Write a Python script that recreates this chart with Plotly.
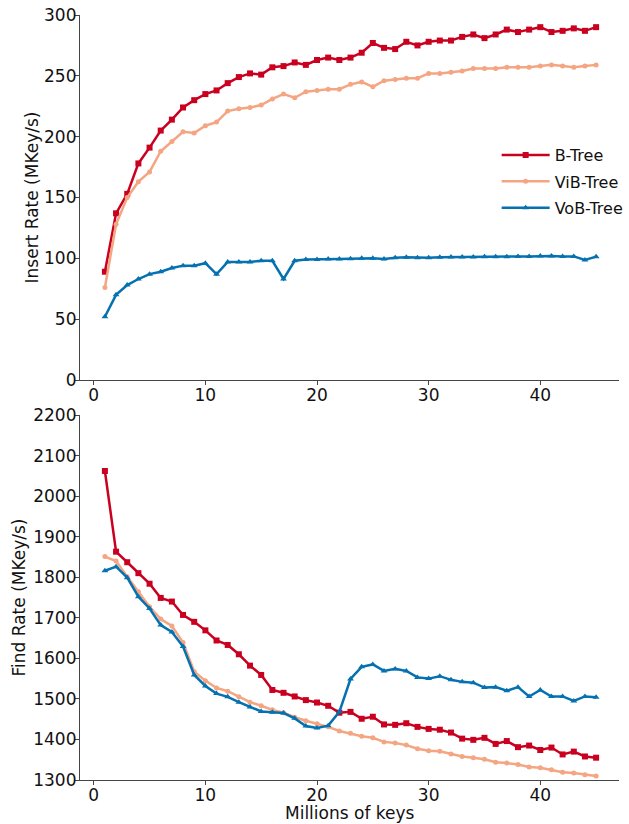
import plotly.graph_objects as go

keys = [1, 2, 3, 4, 5, 6, 7, 8, 9, 10, 11, 12, 13, 14, 15, 16, 17, 18, 19, 20,
        21, 22, 23, 24, 25, 26, 27, 28, 29, 30, 31, 32, 33, 34, 35, 36, 37, 38, 39, 40,
        41, 42, 43, 44, 45]

insert_btree = [89, 137, 153, 178, 191, 205, 214, 224, 230, 235, 238, 244, 249, 252, 251,
                257, 258, 261, 259, 263, 265, 263, 265, 269, 277, 273, 272, 278, 275, 278,
                279, 279, 282, 284, 281, 284, 288, 286, 288, 290, 286, 287, 289, 287, 290]
insert_vib = [76, 128, 150, 163, 171, 188, 196, 204, 203, 209, 212, 221, 223, 224, 226,
              231, 235, 232, 237, 238, 239, 239, 243, 245, 241, 246, 247, 248, 248, 252,
              252, 253, 254, 256, 256, 256, 257, 257, 257, 258, 259, 258, 257, 258, 259]
insert_vob = [52, 70, 78, 83, 87, 89, 92, 94, 94, 96, 87, 97, 97, 97, 98,
              98, 83, 98, 99, 99, 99.5, 99.5, 99.7, 100, 100, 99.5, 100.5, 100.8, 100.5, 100.5,
              100.8, 101, 101, 101, 101.4, 101.4, 101.4, 101.6, 101.6, 102, 102, 101.6, 101.6, 98.6, 101.4]

find_btree = [2062, 1863, 1837, 1810, 1784, 1749, 1740, 1707, 1690, 1669, 1644, 1633, 1610, 1582, 1559,
              1522, 1515, 1506, 1497, 1491, 1483, 1466, 1468, 1451, 1456, 1437, 1436, 1440, 1431, 1426,
              1424, 1417, 1402, 1399, 1404, 1389, 1396, 1381, 1385, 1374, 1380, 1363, 1370, 1358, 1355]
find_vib = [1851, 1840, 1801, 1764, 1727, 1697, 1680, 1639, 1567, 1545, 1527, 1519, 1505, 1492, 1483,
            1473, 1466, 1455, 1446, 1439, 1431, 1421, 1415, 1408, 1404, 1394, 1391, 1386, 1377, 1372,
            1371, 1364, 1358, 1355, 1351, 1344, 1342, 1338, 1332, 1330, 1325, 1319, 1317, 1313, 1310]
find_vob = [1816, 1826, 1799, 1752, 1723, 1682, 1665, 1629, 1559, 1532, 1513, 1505, 1492, 1480, 1469,
            1467, 1465, 1452, 1433, 1428, 1434, 1468, 1549, 1579, 1585, 1569, 1574, 1569, 1553, 1550,
            1556, 1547, 1542, 1540, 1528, 1529, 1520, 1529, 1506, 1522, 1506, 1506, 1495, 1506, 1504]

x_ticks = [0, 10, 20, 30, 40]
insert_ticks = [0, 50, 100, 150, 200, 250, 300]
find_ticks = [1300, 1400, 1500, 1600, 1700, 1800, 1900, 2000, 2100, 2200]

names = ["B-Tree", "ViB-Tree", "VoB-Tree"]
colors = ["#ca0020", "#f4a582", "#0571b0"]
symbols = ["square", "circle", "triangle-up"]
msizes = [6, 5, 6]

FONT = "DejaVu Sans"
fig = go.Figure()

for i, ys in enumerate([insert_btree, insert_vib, insert_vob]):
    fig.add_trace(go.Scatter(x=keys, y=ys, name=names[i], mode="lines+markers",
                             legendgroup=names[i],
                             line=dict(color=colors[i], width=2.5),
                             marker=dict(symbol=symbols[i], size=msizes[i], color=colors[i]),
                             xaxis="x", yaxis="y", showlegend=True))
for i, ys in enumerate([find_btree, find_vib, find_vob]):
    fig.add_trace(go.Scatter(x=keys, y=ys, name=names[i], mode="lines+markers",
                             legendgroup=names[i],
                             line=dict(color=colors[i], width=2.5),
                             marker=dict(symbol=symbols[i], size=msizes[i], color=colors[i]),
                             xaxis="x2", yaxis="y2", showlegend=False))

W, H = 629, 824
top_px, bot_px, left_px = 15, 44, 80
plot_h = H - top_px - bot_px
dom_bottom = [0, 365 / plot_h]
dom_top = [400 / plot_h, 1]

axis_common = dict(showline=True, linecolor="#444", linewidth=1.2, mirror=False,
                   ticks="outside", ticklen=4, tickcolor="#444", tickwidth=1,
                   showgrid=False, zeroline=False, automargin=False,
                   ticklabelstandoff=-5, ticklabeloverflow="allow",
                   tickfont=dict(family=FONT, size=17, color="#111"))

fig.update_layout(
    width=W, height=H,
    margin=dict(l=left_px, r=0, t=top_px, b=bot_px),
    plot_bgcolor="white", paper_bgcolor="white",
    font=dict(family=FONT, size=17, color="#111"),
    xaxis=dict(domain=[0, 1], anchor="y", range=[-1.23, 47.05], tickvals=x_ticks, **axis_common),
    yaxis=dict(domain=dom_top, anchor="x", range=[0, 300], tickvals=insert_ticks,
               title=dict(text="Insert Rate (MKey/s)", font=dict(family=FONT, size=17), standoff=1),
               **axis_common),
    xaxis2=dict(domain=[0, 1], anchor="y2", range=[-1.23, 47.05], tickvals=x_ticks, **axis_common),
    yaxis2=dict(domain=dom_bottom, anchor="x2", range=[1300, 2200], tickvals=find_ticks,
                title=dict(text="Find Rate (MKey/s)", font=dict(family=FONT, size=17), standoff=3),
                **axis_common),
    legend=dict(x=0.773, y=0.839, xanchor="left", yanchor="top", traceorder="grouped",
                tracegroupgap=2.5, itemwidth=48,
                bgcolor="rgba(0,0,0,0)", font=dict(family=FONT, size=16)),
    annotations=[dict(text="Millions of keys", xref="paper", yref="paper", x=0.5, y=-33 / plot_h,
                      xanchor="center", yanchor="middle", showarrow=False,
                      font=dict(family=FONT, size=17, color="#111"))],
)

# remove the default 8px page margin so the figure fills the window exactly
fig.write_html("out.html", config={"displayModeBar": False},
               post_script="document.body.style.margin='0px';")
